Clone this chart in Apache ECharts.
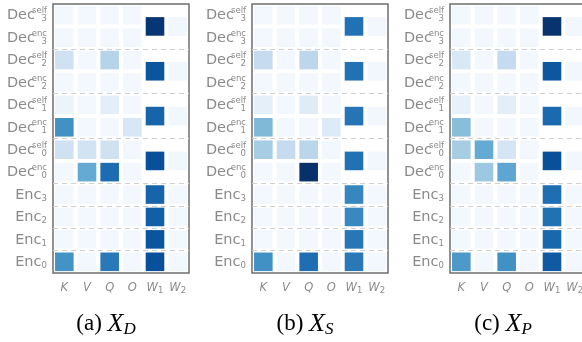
<!DOCTYPE html>
<html><head><meta charset="utf-8">
<script src="https://cdn.jsdelivr.net/npm/echarts@6/dist/echarts.min.js"></script>
<style>html,body{margin:0;padding:0;background:#fff}#c{width:582px;height:342px}</style>
</head><body><div id="c"></div>
<script>
// ---- data ----
const cols = ['K', 'V', 'Q', 'O', 'W1', 'W2'];
const rowBase = ['Dec','Dec','Dec','Dec','Dec','Dec','Dec','Dec','Enc','Enc','Enc','Enc'];
const rowSup  = ['self','enc','self','enc','self','enc','self','enc','','','',''];
const rowSub  = ['3','3','2','2','1','1','0','0','3','2','1','0'];
const captionTag = ['(a)', '(b)', '(c)'];
const captionVar = ['D', 'S', 'P'];

// attention weights K,V,Q,O per row (top to bottom)
const attnD = [
  [0.02,0.02,0.02,0.02],[0.02,0.02,0.02,0.02],
  [0.20,0.02,0.30,0.02],[0.02,0.02,0.02,0.02],
  [0.06,0.02,0.10,0.02],[0.63,0.02,0.02,0.16],
  [0.20,0.19,0.20,0.02],[0.02,0.52,0.77,0.02],
  [0.02,0.02,0.02,0.02],[0.02,0.02,0.02,0.02],
  [0.02,0.02,0.02,0.02],[0.62,0.02,0.72,0.02]
];
const attnS = [
  [0.02,0.02,0.02,0.02],[0.02,0.02,0.02,0.02],
  [0.25,0.02,0.28,0.02],[0.02,0.02,0.02,0.02],
  [0.09,0.02,0.12,0.02],[0.45,0.02,0.02,0.13],
  [0.35,0.25,0.29,0.02],[0.02,0.02,1.00,0.02],
  [0.02,0.02,0.02,0.02],[0.02,0.02,0.02,0.02],
  [0.02,0.02,0.02,0.02],[0.63,0.02,0.76,0.02]
];
const attnP = [
  [0.02,0.02,0.02,0.02],[0.02,0.02,0.02,0.02],
  [0.15,0.02,0.25,0.02],[0.02,0.02,0.02,0.02],
  [0.08,0.02,0.10,0.02],[0.43,0.02,0.02,0.02],
  [0.35,0.52,0.17,0.02],[0.02,0.38,0.54,0.02],
  [0.02,0.02,0.02,0.02],[0.02,0.02,0.02,0.02],
  [0.02,0.02,0.02,0.02],[0.59,0.02,0.63,0.02]
];
// feed-forward W1,W2 per layer: Dec3, Dec2, Dec1, Dec0, Enc3, Enc2, Enc1, Enc0
const ffnD = [[0.98,0.03],[0.86,0.03],[0.80,0.03],[0.88,0.03],[0.80,0.02],[0.82,0.02],[0.86,0.02],[0.88,0.02]];
const ffnS = [[0.75,0.03],[0.75,0.03],[0.74,0.03],[0.75,0.03],[0.67,0.02],[0.66,0.02],[0.73,0.02],[0.72,0.02]];
const ffnP = [[0.99,0.03],[0.85,0.03],[0.78,0.03],[0.88,0.03],[0.76,0.02],[0.75,0.02],[0.79,0.02],[0.84,0.02]];

const panels = [[attnD, ffnD], [attnS, ffnS], [attnP, ffnP]];
const blues = ['#f7fbff','#deebf7','#c6dbef','#9ecae1','#6baed6','#4292c6','#2171b5','#08519c','#08306b'];

// ---- layout ----
const gridLeft = [53, 252, 450];
const gridTop = 4, gridW = 136, gridH = 269;
const capCenter = [101, 300, 498];
const labelColor = '#8a8a8a';
const supW = 12, subW = 5.5;

const cellData = (attn, ffn) => {
  const d = [];
  attn.forEach((row, r) => row.forEach((v, c) => d.push([c + 0.5, r + 0.5, v])));
  ffn.forEach((pair, l) => {
    const y = l < 4 ? 2 * l + 1 : 8 + (l - 4) + 0.5;
    pair.forEach((v, k) => d.push([4.5 + k, y, v]));
  });
  return d;
};

const grid = [], xAxis = [], yAxis = [], series = [], title = [];
panels.forEach(([attn, ffn], i) => {
  grid.push({left: gridLeft[i], top: gridTop, width: gridW, height: gridH, show: true,
             containLabel: false, outerBoundsMode: 'none',
             borderColor: '#6e6e6e', borderWidth: 1.5, backgroundColor: 'transparent'});
  xAxis.push({type: 'value', gridIndex: i, min: 0, max: 6, show: false});
  xAxis.push({type: 'category', gridIndex: i, data: cols, position: 'bottom',
    axisLine: {show: false}, axisTick: {show: false}, splitLine: {show: false},
    axisLabel: {margin: 9, interval: 0, color: labelColor,
      formatter: v => v.length > 1 ? `{i|${v[0]}}{s|${v.slice(1)}}` : `{i|${v}}`,
      rich: {i: {fontSize: 11.5, fontStyle: 'italic', fontFamily: 'DejaVu Sans', color: labelColor},
             s: {fontSize: 8.5, fontFamily: 'DejaVu Sans', color: labelColor, verticalAlign: 'bottom', padding: [4, 0, 0, 0]}}}});
  yAxis.push({type: 'value', gridIndex: i, min: 0, max: 12, inverse: true, show: false, position: 'left'});
  yAxis.push({type: 'category', gridIndex: i, inverse: true, position: 'left', offset: 0,
    data: rowBase.map((b, k) => 'r' + k),
    axisLine: {show: false}, axisTick: {show: false}, splitLine: {show: false},
    axisLabel: {margin: 6, interval: 0, color: labelColor,
      formatter: (v, k) => rowSup[k] ? `{b|${rowBase[k]}}{g| }` : `{b|${rowBase[k]}}{h| }`,
      rich: {b: {fontSize: 14.5, fontFamily: 'DejaVu Sans', color: labelColor, padding: [1, 0, 0, 0]},
             g: {width: supW}, h: {width: subW}}}});
  yAxis.push({type: 'category', gridIndex: i, inverse: true, position: 'left', offset: 0,
    data: rowBase.map((b, k) => 's' + k),
    axisLine: {show: false}, axisTick: {show: false}, splitLine: {show: false},
    axisLabel: {margin: 6, interval: 0, color: labelColor,
      formatter: (v, k) => rowSup[k] ? `{sp|${rowSup[k]}}\n{sb|${rowSub[k]}}` : `{e| }\n{se|${rowSub[k]}}`,
      rich: {sp: {fontSize: 8.5, fontFamily: 'DejaVu Sans', color: labelColor, width: supW, lineHeight: 8},
             sb: {fontSize: 8.5, fontFamily: 'DejaVu Sans', color: labelColor, width: supW, lineHeight: 8},
             e:  {fontSize: 8.5, width: subW, lineHeight: 8},
             se: {fontSize: 8.5, fontFamily: 'DejaVu Sans', color: labelColor, width: subW, lineHeight: 8}}}});
  series.push({
    type: 'custom', xAxisIndex: 2 * i, yAxisIndex: 3 * i, data: cellData(attn, ffn),
    encode: {x: 0, y: 1}, animation: false,
    renderItem: (params, api) => {
      const c = api.coord([api.value(0), api.value(1)]);
      const s = api.size([1, 1]);
      const w = Math.abs(s[0]) * 0.82, h = Math.abs(s[1]) * 0.83;
      return {type: 'rect', shape: {x: c[0] - w / 2, y: c[1] - h / 2, width: w, height: h},
              style: {fill: api.visual('color')}};
    },
    markLine: {silent: true, symbol: ['none', 'none'], animation: false, label: {show: false},
      lineStyle: {color: '#cfcfcf', type: [5, 4], width: 1},
      data: [2, 4, 6, 8, 9, 10, 11].map(v => ({yAxis: v}))}
  });
  title.push({text: `${captionTag[i]} {x|X}{d|${captionVar[i]}}`, left: capCenter[i], top: 305, textAlign: 'center',
    textStyle: {fontFamily: 'Liberation Serif', fontSize: 23, fontWeight: 'normal', color: '#000',
      rich: {x: {fontFamily: 'Liberation Serif', fontStyle: 'italic', fontSize: 26, color: '#000'},
             d: {fontFamily: 'Liberation Serif', fontStyle: 'italic', fontSize: 17, color: '#000', padding: [11, 0, 0, 0]}}}});
});

const chart = echarts.init(document.getElementById('c'), null, {renderer: 'canvas'});
chart.setOption({
  animation: false, backgroundColor: '#fff', title, grid, xAxis, yAxis, series,
  visualMap: {type: 'continuous', show: false, min: 0, max: 1, dimension: 2, seriesIndex: [0, 1, 2],
              inRange: {color: blues}}
});
</script></body></html>
